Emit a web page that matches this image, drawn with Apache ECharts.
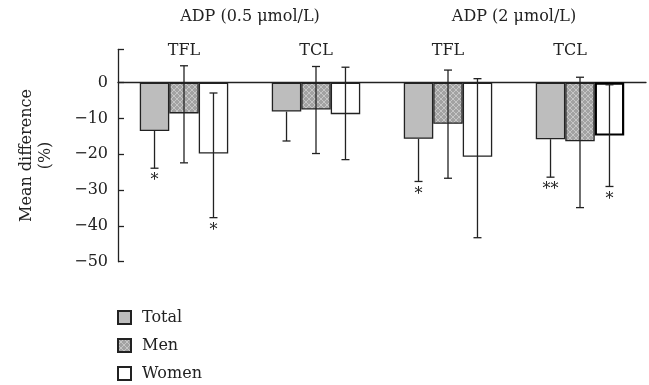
<!DOCTYPE html>
<html><head><meta charset="utf-8">
<script src="https://cdn.jsdelivr.net/npm/echarts@6/dist/echarts.min.js"></script>
<style>html,body{margin:0;padding:0;background:#fff}#c{width:649px;height:385px}</style>
</head><body><div id="c"></div>
<script>
const categories = ['TFL', 'TCL', 'TFL', 'TCL'];
const groups = ['ADP (0.5 \u03bcmol/L)', 'ADP (2 \u03bcmol/L)'];
const seriesNames = ['Total', 'Men', 'Women'];
const totalMean = [-13.5, -8.1, -15.7, -15.8];
const totalLow = [-23.9, -16.3, -27.6, -26.4];
const menMean = [-8.6, -7.5, -11.5, -16.4];
const menHigh = [4.7, 4.5, 3.5, 1.5];
const menLow = [-22.4, -19.8, -26.7, -34.9];
const womenMean = [-19.8, -8.8, -20.7, -14.8];
const womenHigh = [-2.9, 4.3, 1.1, -0.6];
const womenLow = [-37.7, -21.5, -43.3, -29.0];
const totalStars = ['*', '', '*', '**'];
const menStars = ['', '', '', ''];
const womenStars = ['*', '', '', '*'];
const yTicks = [-50, -40, -30, -20, -10, 0];
const yMin = -50, yMax = 9.3;

const FONT = 'DejaVu Serif';
const FS = 16;
const INK = '#222222';
const CAT_GAP = 0.33;

function hatch() {
  const c = document.createElement('canvas');
  c.width = c.height = 6;
  const g = c.getContext('2d');
  g.fillStyle = '#a2a2a2'; g.fillRect(0, 0, 6, 6);
  g.strokeStyle = '#c6c6c6'; g.lineWidth = 1;
  g.beginPath(); g.moveTo(0, 0); g.lineTo(6, 6); g.moveTo(6, 0); g.lineTo(0, 6); g.stroke();
  return c;
}
const fills = ['#bdbdbd', { image: hatch(), repeat: 'repeat' }, '#ffffff'];

function errData(low, high, stars, hasHigh) {
  return low.map((l, i) => [i, l, high[i], stars[i], hasHigh ? 1 : 0]);
}
function errSeries(pos, data) {
  return {
    type: 'custom', xAxisIndex: 0, yAxisIndex: 0, z: 5, silent: true,
    data: data,
    renderItem: function (params, api) {
      const idx = api.value(0);
      const cx = api.coord([idx, 0])[0];
      const band = api.size([1, 0])[0];
      const bw = band * (1 - CAT_GAP) / 3;
      const x = cx + (pos - 1) * bw;
      const yl = api.coord([idx, api.value(1)])[1];
      const yh = api.coord([idx, api.value(2)])[1];
      const star = api.value(3);
      const hasHigh = api.value(4);
      const st = { stroke: INK, lineWidth: 1.3 };
      const ch = [
        { type: 'line', shape: { x1: x, y1: yh, x2: x, y2: yl }, style: st },
        { type: 'line', shape: { x1: x - 4, y1: yl, x2: x + 4, y2: yl }, style: st }
      ];
      if (hasHigh) ch.push({ type: 'line', shape: { x1: x - 4, y1: yh, x2: x + 4, y2: yh }, style: st });
      if (star) ch.push({ type: 'text', style: { text: star, x: x, y: yl + 5, align: 'center', verticalAlign: 'top', font: '16px ' + FONT, fill: INK } });
      return { type: 'group', children: ch };
    }
  };
}

const labelStyle = { verticalAlign: 'middle', fontFamily: FONT, fontSize: FS, color: INK };

const chart = echarts.init(document.getElementById('c'), null, { renderer: 'canvas' });
chart.setOption({
  animation: false,
  backgroundColor: '#fff',
  grid: { left: 118, right: 3, top: 49.3, bottom: 123.3, containLabel: false },
  legend: {
    data: seriesNames, orient: 'vertical', left: 117, top: 308, height: 77, padding: 0,
    itemWidth: 13, itemHeight: 13, itemGap: 9, icon: 'rect',
    textStyle: { fontFamily: FONT, fontSize: FS, color: INK, padding: [0, 0, 0, 6], lineHeight: 19 }
  },
  xAxis: [
    {
      type: 'category', data: categories, gridIndex: 0,
      axisLine: { onZero: true, lineStyle: { color: INK, width: 1.3 } },
      axisTick: { inside: true, length: 4, lineStyle: { color: INK, width: 1.3 } },
      axisLabel: { show: false }, splitLine: { show: false }
    },
    {
      type: 'category', position: 'top', gridIndex: 0,
      data: categories.map((c, i) => i === 3 ? { value: c, textStyle: Object.assign({ padding: [0, 20, 0, 0] }, labelStyle) } : c),
      axisLine: { show: false, onZero: false }, axisTick: { show: false },
      axisLabel: Object.assign({ margin: -1.5 }, labelStyle)
    },
    {
      type: 'category', position: 'top', gridIndex: 0, data: groups,
      axisLine: { show: false, onZero: false }, axisTick: { show: false },
      axisLabel: Object.assign({ margin: 32 }, labelStyle)
    }
  ],
  yAxis: {
    type: 'value', min: yMin, max: yMax,
    name: 'Mean difference\n(%)', nameLocation: 'middle', nameRotate: 90, nameGap: 63,
    nameTextStyle: { fontFamily: FONT, fontSize: FS, color: INK, lineHeight: 19 },
    axisLine: { show: true, lineStyle: { color: INK, width: 1.3 } },
    axisTick: { show: true, inside: true, length: 6, customValues: yTicks.concat([yMax]), lineStyle: { color: INK, width: 1.3 } },
    axisLabel: { customValues: yTicks, margin: 10, fontFamily: FONT, fontSize: FS, color: INK,
      formatter: v => v < 0 ? '\u2212' + Math.abs(v) : String(v) },
    splitLine: { show: false }
  },
  series: [
    { name: 'Total', type: 'bar', data: totalMean, barGap: '0%', barCategoryGap: '33%',
      itemStyle: { color: fills[0], borderColor: INK, borderWidth: 1.3 } },
    { name: 'Men', type: 'bar', data: menMean,
      itemStyle: { color: fills[1], borderColor: INK, borderWidth: 1.3 } },
    { name: 'Women', type: 'bar',
      data: womenMean.map((v, i) => i === 3 ? { value: v, itemStyle: { borderColor: '#000', borderWidth: 2.2 } } : v),
      itemStyle: { color: fills[2], borderColor: INK, borderWidth: 1.3 } },
    errSeries(0, errData(totalLow, totalMean, totalStars, false)),
    errSeries(1, errData(menLow, menHigh, menStars, true)),
    errSeries(2, errData(womenLow, womenHigh, womenStars, true))
  ]
});
</script></body></html>
